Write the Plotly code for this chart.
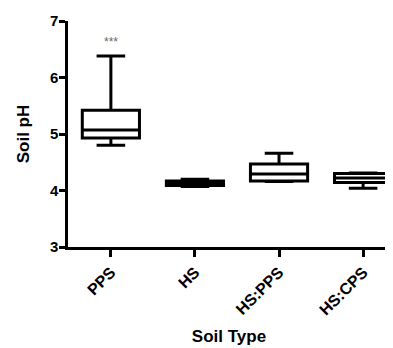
import plotly.graph_objects as go

categories = ["PPS", "HS", "HS:PPS", "HS:CPS"]
q1 = [4.93, 4.09, 4.17, 4.14]
median = [5.07, 4.13, 4.29, 4.22]
q3 = [5.42, 4.17, 4.47, 4.30]
lower = [4.80, 4.07, 4.16, 4.04]
upper = [6.38, 4.20, 4.66, 4.31]
y_ticks = [3, 4, 5, 6, 7]

FONT = "Liberation Sans, Arial, sans-serif"

fig = go.Figure()
fig.add_trace(go.Box(
    x=categories, q1=q1, median=median, q3=q3,
    lowerfence=lower, upperfence=upper,
    boxpoints=False,
    fillcolor="white",
    line=dict(color="black", width=3),
    width=0.68,
    whiskerwidth=0.5,
    showlegend=False,
    hoverinfo="skip",
))

fig.add_annotation(x="PPS", y=6.62, text="***", showarrow=False,
                   font=dict(family=FONT, size=12, color="#666666"))

fig.update_layout(
    width=393, height=348,
    margin=dict(l=60, r=11, t=13, b=109),
    paper_bgcolor="white", plot_bgcolor="white",
    font=dict(family=FONT, color="black"),
    xaxis=dict(
        type="category",
        range=[-0.51, 3.32],
        automargin=False,
        showline=True, linecolor="black", linewidth=2.5,
        ticks="outside", ticklen=7, tickwidth=2.5, tickcolor="black",
        tickangle=-45,
        tickfont=dict(family=FONT, size=16, color="black", weight="bold"),
        showgrid=False, zeroline=False,
        title=dict(text="<b>Soil Type</b>", font=dict(family=FONT, size=17), standoff=13),
    ),
    yaxis=dict(
        range=[3, 7],
        tickvals=y_ticks,
        automargin=False,
        showline=True, linecolor="black", linewidth=2.5,
        ticks="outside", ticklen=6, tickwidth=2.5, tickcolor="black",
        ticklabelstandoff=-2,
        tickfont=dict(family=FONT, size=15, color="black", weight="bold"),
        showgrid=False, zeroline=False,
        title=dict(text="<b>Soil pH</b>", font=dict(family=FONT, size=17), standoff=16),
    ),
)

fig.write_html("out.html")
